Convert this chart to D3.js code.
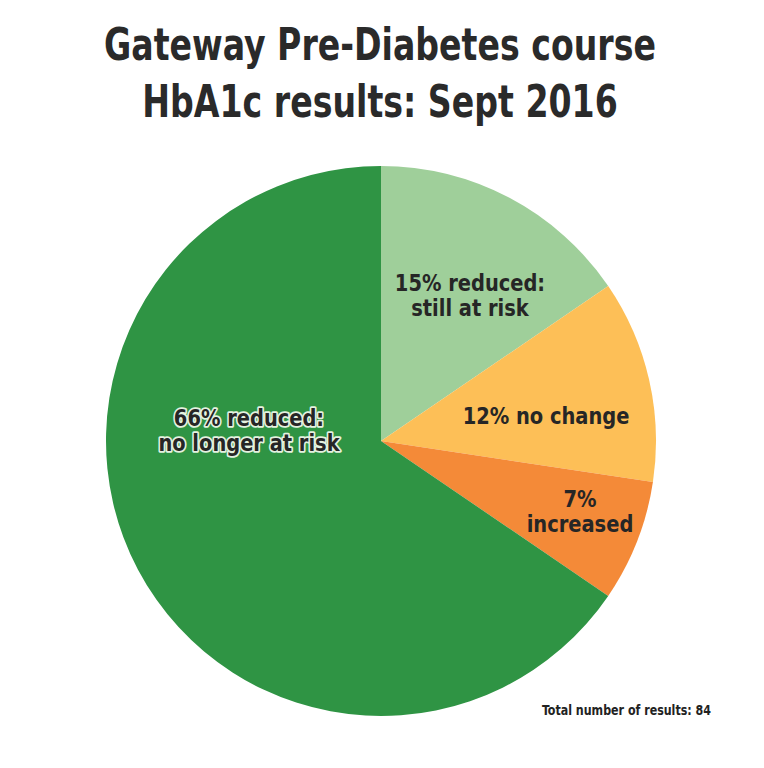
<!doctype html>
<html>
<head>
	<meta charset="utf-8">
	<title>Gateway Pre-Diabetes course</title>
	<script src="https://d3js.org/d3.v7.min.js"></script>
	<style>
		html, body { margin: 0; padding: 0; background: #fff; }
		text { font-family: "DejaVu Sans Condensed", "DejaVu Sans", sans-serif; font-weight: bold; }
	</style>
</head>
<body>
	<div id="chart"></div>
	<script>
		// chart data
		const titleLines = ['Gateway Pre-Diabetes course', 'HbA1c results: Sept 2016'];
		const categories = ['reduced: still at risk', 'no change', 'increased', 'reduced: no longer at risk'];
		const counts = [13, 10, 6, 55];
		const labelLines = [
			['15% reduced:', 'still at risk'],
			['12% no change'],
			['7%', 'increased'],
			['66% reduced:', 'no longer at risk']
		];
		const colors = ['#9fcf9a', '#fdbf57', '#f48a38', '#2f9444'];
		const footnote = 'Total number of results: 84';

		// label placement relative to pie centre (px)
		const labelOffset = [[89, -145], [165, -24], [199, 71], [-132, -10]];

		const width = 764, height = 768;
		const cx = 381, cy = 441, radius = 275;

		const svg = d3.select('#chart').append('svg')
			.attr('width', width)
			.attr('height', height);

		// title (horizontally squeezed to mimic the narrow face)
		svg.selectAll('.title')
			.data(titleLines)
			.enter().append('text')
			.attr('class', 'title')
			.attr('transform', (d, i) => 'translate(380,' + (60 + i * 57) + ') scale(0.82,1)')
			.attr('text-anchor', 'middle')
			.attr('font-size', '45px')
			.attr('fill', '#2a2a2a')
			.text(d => d);

		const pie = d3.pie().sort(null).value(d => d);
		const arc = d3.arc().innerRadius(0).outerRadius(radius);

		const g = svg.append('g')
			.attr('transform', 'translate(' + cx + ',' + cy + ')');

		g.selectAll('path')
			.data(pie(counts))
			.enter().append('path')
			.attr('d', arc)
			.attr('fill', (d, i) => colors[i]);

		// slice labels
		const labels = g.selectAll('.label')
			.data(labelLines)
			.enter().append('text')
			.attr('class', 'label')
			.attr('text-anchor', 'middle')
			.attr('font-size', '23px')
			.attr('fill', '#262626')
			.attr('transform', (d, i) => 'translate(' + labelOffset[i][0] + ',' + labelOffset[i][1] + ') scale(0.94,1)');

		labels.each(function (lines, i) {
			const t = d3.select(this);
			if (i === 3) {
				t.attr('stroke', '#e4f2e0')
					.attr('stroke-width', 3.5)
					.attr('stroke-linejoin', 'round')
					.attr('paint-order', 'stroke');
			}
			lines.forEach((line, j) => {
				t.append('tspan')
					.attr('x', 0)
					.attr('y', j * 25 - (lines.length - 1) * 12.5 + 7)
					.text(line);
			});
		});

		svg.append('text')
			.attr('transform', 'translate(711,715) scale(0.85,1)')
			.attr('text-anchor', 'end')
			.attr('font-size', '14.5px')
			.attr('fill', '#222')
			.text(footnote);
	</script>
</body>
</html>
